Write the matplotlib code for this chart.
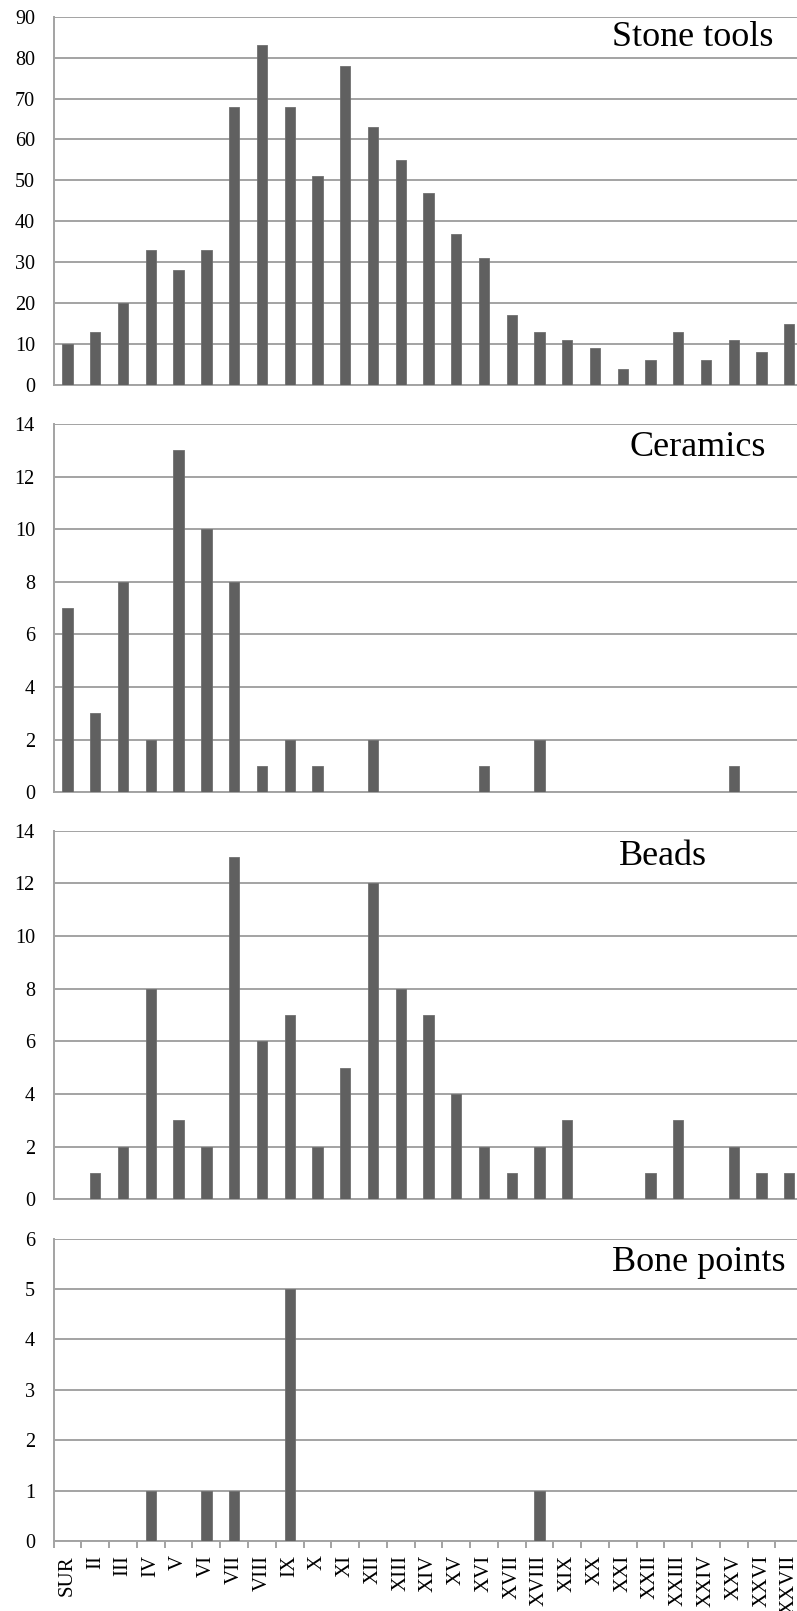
import matplotlib
matplotlib.use("Agg")
import matplotlib.pyplot as plt
import numpy as np

plt.rcParams['font.family'] = ['Liberation Serif', 'DejaVu Serif']

categories = ["SUR", "II", "III", "IV", "V", "VI", "VII", "VIII", "IX", "X",
              "XI", "XII", "XIII", "XIV", "XV", "XVI", "XVII", "XVIII", "XIX",
              "XX", "XXI", "XXII", "XXIII", "XXIV", "XXV", "XXVI", "XXVII"]

stone_tools = [10, 13, 20, 33, 28, 33, 68, 83, 68, 51, 78, 63, 55, 47, 37, 31,
               17, 13, 11, 9, 4, 6, 13, 6, 11, 8, 15]
ceramics = [7, 3, 8, 2, 13, 10, 8, 1, 2, 1, 0, 2, 0, 0, 0, 1, 0, 2, 0, 0, 0,
            0, 0, 0, 1, 0, 0]
beads = [0, 1, 2, 8, 3, 2, 13, 6, 7, 2, 5, 12, 8, 7, 4, 2, 1, 2, 3, 0, 0, 1,
         3, 0, 2, 1, 1]
bone_points = [0, 0, 0, 1, 0, 1, 1, 0, 5, 0, 0, 0, 0, 0, 0, 0, 0, 1, 0, 0, 0,
               0, 0, 0, 0, 0, 0]

panels = [
    ("Stone tools", stone_tools, 90, 10),
    ("Ceramics", ceramics, 14, 2),
    ("Beads", beads, 14, 2),
    ("Bone points", bone_points, 6, 1),
]

W, H = 797, 1611
fig = plt.figure(figsize=(W / 100, H / 100), dpi=100)

# (top, bottom) pixel positions of each plot area
boxes = [(16.7, 385.0), (424.0, 792.3), (830.7, 1199.3), (1238.5, 1541.0)]
left_px, right_px = 53.7, 803.2
title_pos = [(773, 46), (766, 456), (707, 865), (785, 1271)]

grid_col = "#a3a3a3"
bar_col = "#606060"
x = np.arange(len(categories))

for i, ((name, vals, ymax, step), (top, bot), (tx, ty)) in enumerate(zip(panels, boxes, title_pos)):
    ax = fig.add_axes([left_px / W, 1 - bot / H, (right_px - left_px) / W, (bot - top) / H])
    ax.bar(x, vals, width=0.37, color=bar_col, edgecolor="#707070", linewidth=0.6, zorder=3)
    ax.set_xlim(-0.5, len(categories) - 0.5)
    ax.set_ylim(0, ymax)
    ax.set_yticks(np.arange(0, ymax + step / 2, step))
    ax.yaxis.grid(True, color=grid_col, linewidth=1.4, zorder=1)
    ax.tick_params(axis='y', length=0, pad=13.5, labelsize=14.5)
    for s in ["top", "right"]:
        ax.spines[s].set_visible(False)
    for s in ["left", "bottom"]:
        ax.spines[s].set_color(grid_col)
        ax.spines[s].set_linewidth(1.4)
    if i == len(panels) - 1:
        ax.set_xticks(x)
        ax.set_xticklabels(categories, rotation=90, fontsize=15, va='top', ha='center')
        ax.set_xticks(np.arange(-0.5, len(categories) + 0.5, 1), minor=True)
        ax.tick_params(axis='x', which='major', length=0, pad=10)
        ax.tick_params(axis='x', which='minor', length=5, width=1.4, color=grid_col)
    else:
        ax.set_xticks([])
    fig.text(tx / W, 1 - ty / H, name, ha='right', va='baseline', fontsize=26)

fig.savefig("out.png", dpi=100, facecolor="white")
